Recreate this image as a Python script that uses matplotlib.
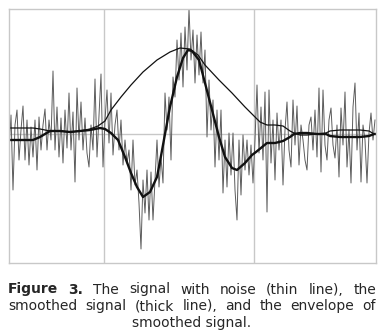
import numpy as np
import matplotlib
matplotlib.use("Agg")
import matplotlib.pyplot as plt

# noisy signal, one sample every 2 columns (amplitude, 0 = centre line)
noisy = [-16, 19, -56, 9, 24, -26, 4, 28, -26, 14,
         -31, 7, -23, 14, -36, 17, -16, 9, 25, -16,
         14, -6, 63, -16, 27, -23, 16, -29, 24, -14,
         41, -16, 22, -48, 46, -6, 32, -16, 16, -19,
         -33, 9, -16, 55, -23, 19, 60, -33, 14, 44,
         -9, 41, -21, 9, 24, -16, 14, -31, -6, -29,
         -16, -56, -6, -51, -36, -69, -115, -46, -79, -36,
         -86, -38, -86, -46, -6, -53, -23, -49, 41, 4,
         37, -26, 57, 37, 94, 54, 101, 47, 107, 64,
         125, 74, 104, 51, 99, 59, 102, 51, 84, -3,
         54, 4, 34, -33, 24, -26, 24, -59, -6, -53,
         1, -41, 1, -56, -86, -6, -61, -1, -36, -6,
         -41, -11, -49, -6, 49, -19, 27, -26, 42, -78,
         44, -29, 14, -46, 21, -16, 14, -51, 4, 32,
         -16, -33, 34, -11, 28, -31, 9, -6, -26, -36,
         9, 17, -16, 24, -23, 46, -38, 44, -11, -26,
         14, 26, -11, -24, 9, -43, 26, -11, 42, -33,
         4, -49, 27, 51, -16, 21, -48, 9, -6, -49,
         1, 21, -6, 14]

# smoothed signal (thick line)
smooth_x = [0, 11, 24, 31, 36, 41, 51, 61, 71, 81,
            91, 96, 102, 109, 116, 122, 128, 134, 141, 148,
            152, 156, 161, 168, 174, 179, 183, 190, 196, 203,
            210, 216, 223, 228, 236, 243, 247, 258, 266, 274,
            281, 285, 291, 298, 308, 317, 321, 331, 341, 351,
            360, 365, 367]
smooth_y = [-6, -6, -6, -3, 0, 3, 3, 2, 3, 4,
            6, 5, 1, -6, -23, -39, -53, -63, -58, -43,
            -22, 0, 27, 57, 76, 84, 83, 74, 51, 24,
            -3, -23, -34, -36, -29, -21, -18, -9, -9, -7,
            -3, 0, 1, 1, 0, 0, -2, -3, -3, -3,
            -2, 0, 0]

# envelope of the smoothed signal
env_x = [0, 11, 24, 31, 36, 41, 51, 61, 71, 81,
         89, 96, 102, 112, 122, 134, 148, 161, 171, 181,
         189, 196, 210, 223, 236, 246, 251, 258, 266, 274,
         281, 285, 291, 298, 308, 317, 321, 331, 341, 351,
         360, 365, 367]
env_y = [6, 6, 6, 5, 4, 3, 3, 2, 3, 5,
         8, 13, 24, 37, 49, 62, 74, 82, 86, 85,
         79, 69, 54, 41, 27, 17, 12, 9, 9, 8,
         3, 1, -1, -1, 0, 1, 3, 4, 4, 4,
         3, 0, 0]

grid_x = [95, 245]

caption = [
    ([("Figure", True), ("3.", True), ("The", False), ("signal", False), ("with", False),
      ("noise", False), ("(thin", False), ("line),", False), ("the", False)], 293.5, "justify"),
    ([(w, False) for w in "smoothed signal (thick line), and the envelope of".split()], 310, "justify"),
    ([("smoothed signal.", False)], 326.5, "center"),
]

W, H = 384, 334
fig = plt.figure(figsize=(W / 100, H / 100), dpi=100)
ax = fig.add_axes([9 / W, 71 / H, 367 / W, 254 / H])

t = np.arange(len(noisy)) * 2
ax.plot(t, noisy, color="#5c5c5c", lw=0.7)
ax.plot(smooth_x, smooth_y, color="#111111", lw=1.7)
ax.plot(env_x, env_y, color="#111111", lw=0.9)

ax.set_xlim(0, 367)
ax.set_ylim(-129, 125)
ax.set_xticks(grid_x)
ax.set_yticks([0])
ax.grid(True, color="#c8c8c8", lw=1)
ax.set_axisbelow(True)
ax.tick_params(length=0, labelbottom=False, labelleft=False)
for s in ax.spines.values():
    s.set_color("#c8c8c8")
    s.set_linewidth(1)

renderer = fig.canvas.get_renderer()
left, right = 8, 376
for words, y_px, mode in caption:
    texts = []
    for w, bold in words:
        txt = fig.text(0, 1 - y_px / H, w, fontsize=10, va="baseline",
                       fontweight="bold" if bold else "normal", color="#262626")
        texts.append(txt)
    widths = [tx.get_window_extent(renderer).width for tx in texts]
    if mode == "center":
        x = (left + right) / 2 - widths[0] / 2
        gap = 0
    else:
        gap = (right - left - sum(widths)) / (len(texts) - 1)
        x = left
    for tx, wd in zip(texts, widths):
        tx.set_x(x / W)
        x += wd + gap

fig.savefig("out.png", dpi=100, facecolor="white")
